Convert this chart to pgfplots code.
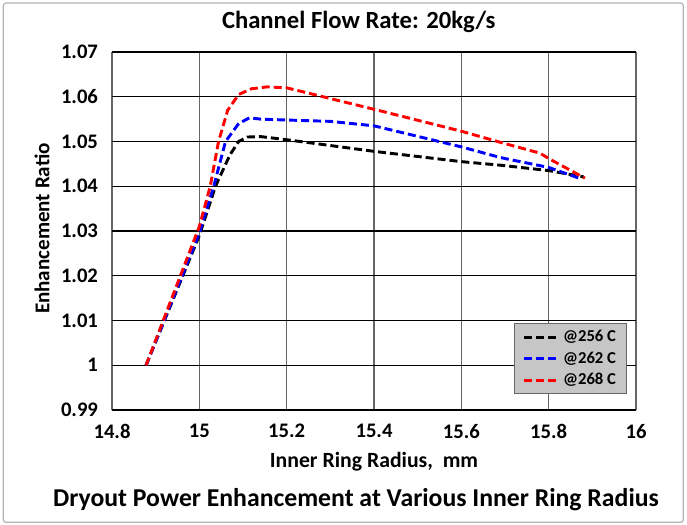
\documentclass[border=0pt]{standalone}
\usepackage{fontspec}
\setmainfont{Carlito}
\usepackage{pgfplots}
\pgfplotsset{compat=1.18}

\begin{document}
\begin{tikzpicture}
% page frame (687x525 px at 0.75pt/px)
\path (0pt,0pt) rectangle (515.25pt,393.75pt);
\draw[gray!60, line width=0.9pt, rounded corners=2pt] (2.5pt,2pt) rectangle (512.5pt,391.5pt);
\node[font=\bfseries\fontsize{18.5}{21}\selectfont] at (269pt,377pt) {Channel Flow Rate: 20kg/s};
\node[rotate=90, font=\bfseries\fontsize{15.8}{18}\selectfont] at (31.5pt,222.3pt) {Enhancement Ratio};
\node[font=\bfseries\fontsize{16.3}{19}\selectfont] at (280.5pt,47.25pt) {Inner Ring Radius,\ \ mm};
\node[font=\bfseries\fontsize{19.3}{22}\selectfont] at (267pt,18.75pt) {Dryout Power Enhancement at Various Inner Ring Radius};

\begin{axis}[
    at={(84pt,86.25pt)}, anchor=south west,
    scale only axis,
    width=393pt, height=268.5pt,
    xmin=14.8, xmax=16,
    ymin=0.99, ymax=1.07,
    xtick={14.8,15,15.2,15.4,15.6,15.8,16},
    ytick={0.99,1,1.01,1.02,1.03,1.04,1.05,1.06,1.07},
    yticklabels={0.99,1,1.01,1.02,1.03,1.04,1.05,1.06,1.07},
    xticklabels={14.8,15,15.2,15.4,15.6,15.8,16},
    major tick length=0pt,
    axis line style={draw=none},
    xmajorgrids, ymajorgrids,
    major x grid style={gray!80!black, line width=0.8pt},
    major y grid style={black, line width=1pt},
    tick label style={font=\bfseries\fontsize{15.5}{17}\selectfont},
    xticklabel style={yshift=-7pt},
    yticklabel style={xshift=-7pt},
    legend style={at={(0.983,0.045)}, anchor=south east,
        fill=gray!45, draw=gray!80!black, line width=0.6pt,
        font=\bfseries\fontsize{12.5}{14}\selectfont,
        row sep=2pt, inner xsep=6pt, inner ysep=3pt},
    legend cell align=left,
    legend image code/.code={\draw[#1, dash pattern=on 6pt off 3pt] (0pt,0pt) -- (26pt,0pt);},
    every axis plot/.append style={line width=2.2pt, dash pattern=on 6pt off 3pt},
]
\addplot[black] coordinates {
    (14.878,1.0) (15.0,1.029) (15.037,1.04) (15.07,1.047) (15.09,1.0500)
    (15.11,1.0510) (15.14,1.0511) (15.2,1.0504) (15.4,1.0478) (15.6,1.0455)
    (15.69,1.0447) (15.8,1.0435) (15.88,1.0421)
};
\addplot[blue] coordinates {
    (14.878,1.0) (15.0,1.0295) (15.033,1.04) (15.06,1.05) (15.09,1.0540)
    (15.115,1.0553) (15.14,1.0550) (15.2,1.0548) (15.3,1.0545) (15.4,1.0535)
    (15.6,1.0488) (15.69,1.0464) (15.8,1.0442) (15.87,1.0418)
};
\addplot[red] coordinates {
    (14.878,1.0) (15.0,1.031) (15.025,1.04) (15.044,1.05) (15.065,1.057)
    (15.09,1.0605) (15.12,1.0618) (15.155,1.0622) (15.2,1.0620) (15.4,1.0572)
    (15.6,1.0523) (15.69,1.0498) (15.78,1.0474) (15.8,1.0462) (15.883,1.0418)
};
\legend{@256 C,@262 C,@268 C}
\end{axis}
\end{tikzpicture}
\end{document}
